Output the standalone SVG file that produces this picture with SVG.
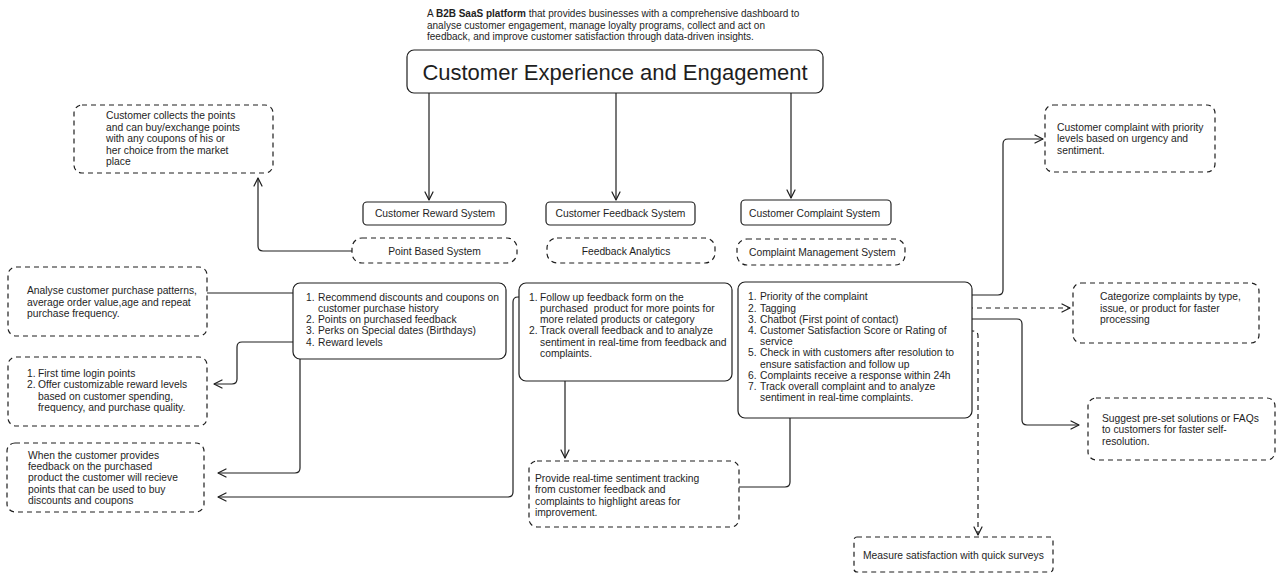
<svg xmlns="http://www.w3.org/2000/svg" width="1280" height="579" viewBox="0 0 1280 579">
<style>
text{font-family:"Liberation Sans",Arial,Helvetica,sans-serif;font-size:10.3px;fill:#1e1e1e}
.desc{font-size:10px}
.title{font-size:22px}
.b{font-weight:bold}
.box{fill:#fff;stroke:#1e1e1e;stroke-width:1.2}
.dbox{fill:#fff;stroke:#1e1e1e;stroke-width:1.2;stroke-dasharray:5 4}
.c{fill:none;stroke:#1e1e1e;stroke-width:1.2}
.cd{fill:none;stroke:#1e1e1e;stroke-width:1.2;stroke-dasharray:5 4}
.m{text-anchor:middle}
</style>
<defs>
<marker id="arr" markerUnits="userSpaceOnUse" markerWidth="12" markerHeight="12" refX="9" refY="5" orient="auto">
<path d="M1,1 L9,5 L1,9" fill="none" stroke="#1e1e1e" stroke-width="1.2" stroke-linecap="round" stroke-linejoin="round"/>
</marker>
</defs>
<rect width="1280" height="579" fill="#fff"/>

<g id="description">
<text class="desc" x="427" y="16.8">A <tspan class="b">B2B SaaS platform</tspan> that provides businesses with a comprehensive dashboard to</text>
<text class="desc" x="427" y="28.5">analyse customer engagement, manage loyalty programs, collect and act on</text>
<text class="desc" x="427" y="40.2">feedback, and improve customer satisfaction through data-driven insights.</text>
</g>

<g id="connectors">
<path class="c" d="M429,93 V200" marker-end="url(#arr)"/>
<path class="c" d="M616,93 V200" marker-end="url(#arr)"/>
<path class="c" d="M791,93 V198" marker-end="url(#arr)"/>
<path class="c" d="M352,251 H263 Q258,251 258,246 V178" marker-end="url(#arr)"/>
<path class="c" d="M207,293 H304"/>
<path class="c" d="M304,342 H242 Q237,342 237,347 V379 Q237,384 232,384 H214" marker-end="url(#arr)"/>
<path class="c" d="M305,318 H302 Q300,318 300,320 V468 Q300,473 295,473 H218" marker-end="url(#arr)"/>
<path class="c" d="M527,297 H518 Q513,297 513,302 V492 Q513,497 508,497 H218" marker-end="url(#arr)"/>
<path class="c" d="M565,360 V458" marker-end="url(#arr)"/>
<path class="c" d="M790,404 V482 Q790,487 785,487 H722" marker-end="url(#arr)"/>
<path class="c" d="M878,295 H998 Q1003,295 1003,290 V144 Q1003,139 1008,139 H1043" marker-end="url(#arr)"/>
<path class="cd" d="M806,308 H1070" marker-end="url(#arr)"/>
<path class="c" d="M912,319 H1017 Q1022,319 1022,324 V420 Q1022,425 1027,425 H1079" marker-end="url(#arr)"/>
<path class="cd" d="M942,331 H973 Q978,331 978,336 V535" marker-end="url(#arr)"/>
</g>

<g id="title">
<rect class="box" x="407" y="50" width="416" height="43" rx="7"/>
<text class="title m" x="615" y="80">Customer Experience and Engagement</text>
</g>

<g id="reward-system">
<rect class="box" x="363" y="202" width="143" height="23" rx="4"/>
<text class="m" x="435" y="217">Customer Reward System</text>
</g>
<g id="feedback-system">
<rect class="box" x="546" y="202" width="149" height="23" rx="4"/>
<text class="m" x="620.5" y="217">Customer Feedback System</text>
</g>
<g id="complaint-system">
<rect class="box" x="741" y="200" width="150" height="25" rx="4"/>
<text x="749" y="217">Customer Complaint System</text>
</g>

<g id="point-based">
<rect class="dbox" x="352" y="238" width="165" height="25" rx="10"/>
<text class="m" x="434.5" y="254.5">Point Based System</text>
</g>
<g id="feedback-analytics">
<rect class="dbox" x="547" y="238" width="168" height="25" rx="10"/>
<text class="m" x="626" y="254.5">Feedback Analytics</text>
</g>
<g id="complaint-management">
<rect class="dbox" x="737" y="239" width="168" height="26" rx="10"/>
<text x="749" y="255.5">Complaint Management System</text>
</g>

<g id="reward-list">
<rect class="box" x="293" y="283" width="213" height="76" rx="7"/>
<text x="306" y="300.5">1.</text><text x="318" y="300.5">Recommend discounts and coupons on</text>
<text x="318" y="311.8">customer purchase history</text>
<text x="306" y="323.1">2.</text><text x="318" y="323.1">Points on purchased feedback</text>
<text x="306" y="334.4">3.</text><text x="318" y="334.4">Perks on Special dates (Birthdays)</text>
<text x="306" y="345.7">4.</text><text x="318" y="345.7">Reward levels</text>
</g>

<g id="feedback-list">
<rect class="box" x="519" y="283" width="213" height="98" rx="7"/>
<text x="529" y="300.5">1.</text><text x="540" y="300.5">Follow up feedback form on the</text>
<text x="540" y="311.8">purchased&#160; product for more points for</text>
<text x="540" y="323.1">more related products or category</text>
<text x="529" y="334.4">2.</text><text x="540" y="334.4">Track overall feedback and to analyze</text>
<text x="540" y="345.7">sentiment in real-time from feedback and</text>
<text x="540" y="357">complaints.</text>
</g>

<g id="complaint-list">
<rect class="box" x="738" y="282" width="234" height="136" rx="7"/>
<text x="748" y="300.3">1.</text><text x="760" y="300.3">Priority of the complaint</text>
<text x="748" y="311.5">2.</text><text x="760" y="311.5">Tagging</text>
<text x="748" y="322.7">3.</text><text x="760" y="322.7">Chatbot (First point of contact)</text>
<text x="748" y="333.9">4.</text><text x="760" y="333.9">Customer Satisfaction Score or Rating of</text>
<text x="760" y="345.1">service</text>
<text x="748" y="356.3">5.</text><text x="760" y="356.3">Check in with customers after resolution to</text>
<text x="760" y="367.5">ensure satisfaction and follow up</text>
<text x="748" y="378.7">6.</text><text x="760" y="378.7">Complaints receive a response within 24h</text>
<text x="748" y="389.9">7.</text><text x="760" y="389.9">Track overall complaint and to analyze</text>
<text x="760" y="401.1">sentiment in real-time complaints.</text>
</g>

<g id="market-place-note">
<rect class="dbox" x="74" y="105" width="199" height="68" rx="8"/>
<text x="106" y="119.3">Customer collects the points</text>
<text x="106" y="130.8">and can buy/exchange points</text>
<text x="106" y="142.3">with any coupons of his or</text>
<text x="106" y="153.8">her choice from the market</text>
<text x="106" y="165.3">place</text>
</g>

<g id="analyse-note">
<rect class="dbox" x="8" y="267" width="199" height="69" rx="8"/>
<text x="27" y="294.3">Analyse customer purchase patterns,</text>
<text x="27" y="305.5">average order value,age and repeat</text>
<text x="27" y="316.7">purchase frequency.</text>
</g>

<g id="login-note">
<rect class="dbox" x="8" y="357" width="199" height="69" rx="8"/>
<text x="27" y="377">1.</text><text x="38" y="377">First time login points</text>
<text x="27" y="388.4">2.</text><text x="38" y="388.4">Offer customizable reward levels</text>
<text x="38" y="399.8">based on customer spending,</text>
<text x="38" y="411.2">frequency, and purchase quality.</text>
</g>

<g id="feedback-points-note">
<rect class="dbox" x="7" y="443" width="197" height="69" rx="8"/>
<text x="28" y="458.6">When the customer provides</text>
<text x="28" y="470">feedback on the purchased</text>
<text x="28" y="481.4">product the customer will recieve</text>
<text x="28" y="492.8">points that can be used to buy</text>
<text x="28" y="504.2">discounts and coupons</text>
</g>

<g id="sentiment-note">
<rect class="dbox" x="529" y="461" width="210" height="66" rx="8"/>
<text x="535" y="482">Provide real-time sentiment tracking</text>
<text x="535" y="493.3">from customer feedback and</text>
<text x="535" y="504.6">complaints to highlight areas for</text>
<text x="535" y="515.9">improvement.</text>
</g>

<g id="priority-note">
<rect class="dbox" x="1045" y="105" width="170" height="67" rx="8"/>
<text x="1057" y="131">Customer complaint with priority</text>
<text x="1057" y="142.3">levels based on urgency and</text>
<text x="1057" y="153.6">sentiment.</text>
</g>

<g id="categorize-note">
<rect class="dbox" x="1073" y="283" width="186" height="60" rx="8"/>
<text x="1100" y="300.3">Categorize complaints by type,</text>
<text x="1100" y="311.8">issue, or product for faster</text>
<text x="1100" y="323.3">processing</text>
</g>

<g id="faq-note">
<rect class="dbox" x="1088" y="398" width="187" height="62" rx="8"/>
<text x="1102" y="422">Suggest pre-set solutions or FAQs</text>
<text x="1102" y="433.3">to customers for faster self-</text>
<text x="1102" y="444.6">resolution.</text>
</g>

<g id="survey-note">
<rect class="dbox" x="854" y="537" width="199" height="35" rx="3"/>
<text x="863" y="558.6">Measure satisfaction with quick surveys</text>
</g>
</svg>
